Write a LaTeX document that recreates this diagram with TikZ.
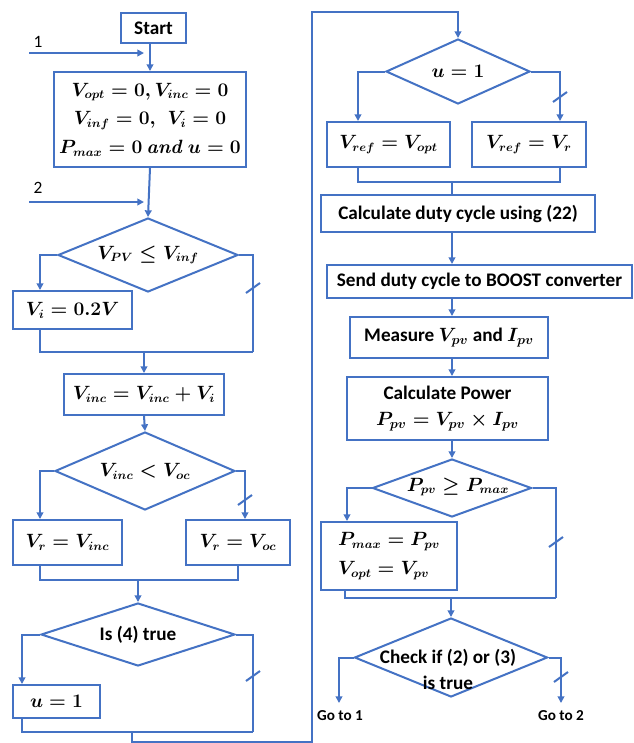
\documentclass[tikz,border=0pt]{standalone}
\usepackage[no-math]{fontspec}
\setmainfont{Carlito}
\usetikzlibrary{arrows.meta,shapes.geometric}
\definecolor{flow}{RGB}{68,114,196}
\tikzset{
  lnk/.style={draw=flow, line width=1.5pt},
  arr/.style={lnk, -{Triangle[length=5pt,width=5pt]}},
  sz/.style 2 args={minimum width=#1*0.75pt, minimum height=#2*0.75pt},
  box/.style={draw=flow, line width=1.5pt, rectangle, inner sep=2pt, align=center,
    font=\fontsize{14.4}{19.5}\selectfont\bfseries\boldmath},
  mth/.style={font=\fontsize{13.5}{21.4}\selectfont\bfseries\boldmath},
  dia/.style={draw=flow, line width=1.5pt, diamond, inner sep=0pt},
  ttxt/.style={inner sep=0pt, align=center, font=\fontsize{14.4}{19.5}\selectfont\bfseries\boldmath},
  tmth/.style={inner sep=0pt, font=\fontsize{13.5}{19.5}\selectfont\bfseries\boldmath},
  small/.style={inner sep=0pt, font=\fontsize{11.4}{13}\selectfont\bfseries},
  lbl/.style={inner sep=0pt, font=\fontsize{13}{15}\selectfont},
}
\newcommand\flowtick[1]{\draw[lnk, shift={#1}] (-7,5) -- (7,-5);}
\begin{document}
\begin{tikzpicture}[x=0.75pt,y=-0.75pt]
\useasboundingbox (0,0) rectangle (634,743);
\fill[white] (0,0) rectangle (634,743);

% ---------- left column ----------
\node[box, sz={65}{30}] (start) at (153.5,28) {Start};
\node[box, mth, sz={192}{95}] (init) at (150,119.5)
  {$V_{opt}=0, V_{inc}=0$\\ $V_{inf}=0,\ \ V_i=0$\\ $P_{max}=0\ \mathit{and}\ u=0$};
\draw[arr] (start.south -| init.north) -- (init.north);

\coordinate (in1) at (29,53); \coordinate (j1) at (144,53);
\draw[arr] (in1) -- (j1);
\node[lbl] (l1) at (38,42) {1};

\coordinate (in2) at (29,202); \coordinate (j2) at (144,202);
\draw[arr] (in2) -- (j2);
\node[lbl] (l2) at (38,188) {2};

\node[dia, sz={180}{74}] (d1) at (148,255) {};
\node[tmth] (d1t) at (d1) {$V_{PV}\le V_{inf}$};
\draw[arr] (init.south) -- (d1.north);

\node[box, mth, sz={119}{38}] (vi) at (72.5,310) {$V_i=0.2V$};
\draw[arr] (d1.west) -| (40,0 |- vi.north);
\coordinate (m1) at (253,352);
\draw[lnk] (d1.east) -| (m1);
\flowtick{(253,288)}
\draw[lnk] (40,0 |- vi.south) |- (m1);

\node[box, mth, sz={160}{41}] (vinc) at (144,394.5) {$V_{inc}=V_{inc}+V_i$};
\draw[arr] (vinc.north |- m1) -- (vinc.north);

\node[dia, sz={180}{78}] (d2) at (145,471) {};
\node[tmth] (d2t) at (d2) {$V_{inc}<V_{oc}$};
\draw[arr] (vinc.south) -- (d2.north);

\node[box, mth, sz={109}{45}] (vr1) at (67.5,542.5) {$V_r=V_{inc}$};
\node[box, mth, sz={104}{45}] (vr2) at (238,542.5) {$V_r=V_{oc}$};
\draw[arr] (d2.west) -| (40,0 |- vr1.north);
\draw[arr] (d2.east) -| (245,0 |- vr2.north);
\flowtick{(245,500)}
\coordinate (m2) at (238,580);
\draw[lnk] (40,0 |- vr1.south) |- (m2) -- (vr2.south);

\node[dia, sz={194}{63}] (d3) at (138,634.5) {};
\node[ttxt] (d3t) at (d3) {Is (4) true};
\draw[arr] (d3.north |- m2) -- (d3.north);

\node[box, mth, sz={87}{33}] (u1) at (56.5,701.5) {$u=1$};
\draw[arr] (d3.west) -| (22,0 |- u1.north);
\coordinate (m3) at (253,732);
\draw[lnk] (d3.east) -| (m3);
\flowtick{(253,676)}
\draw[lnk] (22,0 |- u1.south) |- (m3);

% ---------- right column ----------
\node[dia, sz={144}{65}] (d4) at (458,71.5) {};
\node[tmth] (d4t) at (d4) {$u=1$};

% loop from the bottom of the left column to the top of the right one
\coordinate (r0) at (132,732);
\draw[arr] (r0) -- (132,742) -| (312,12) -| (d4.north);

\node[box, mth, sz={123}{45}] (b1) at (388.5,144.5) {$V_{ref}=V_{opt}$};
\node[box, mth, sz={114}{45}] (b2) at (529,144.5) {$V_{ref}=V_r$};
\draw[arr] (d4.west) -| (358,0 |- b1.north);
\draw[arr] (d4.east) -| (560,0 |- b2.north);
\flowtick{(560,97)}
\coordinate (m4) at (560,182);
\draw[lnk] (358,0 |- b1.south) |- (m4) -- (560,0 |- b2.south);

\node[box, sz={274}{37}] (calc) at (458,213.5) {Calculate duty cycle using (22)};
\draw[lnk] (452,0 |- m4) -- (452,0 |- calc.north);

\node[box, sz={305}{33}] (send) at (479.5,281.5) {Send duty cycle to BOOST converter};
\draw[arr] (452,0 |- calc.south) -- (452,0 |- send.north);

\node[box, sz={198}{41}] (meas) at (449,337.5) {Measure $V_{pv}$ and $I_{pv}$};
\draw[arr] (452,0 |- send.south) -- (452,0 |- meas.north);

\node[box, sz={201}{63}] (pow) at (447.5,408.5) {Calculate Power\\ $P_{pv}=V_{pv}\times I_{pv}$};
\draw[arr] (452,0 |- meas.south) -- (452,0 |- pow.north);

\node[dia, sz={159}{58}] (d5) at (452,488) {};
\node[tmth] (d5t) at (458,487) {$P_{pv}\ge P_{max}$};
\draw[arr] (452,0 |- pow.south) -- (d5.north);

\node[box, mth, sz={136}{68}, align=left] (pm) at (389,556) {$P_{max}=P_{pv}$\\ $V_{opt}=V_{pv}$};
\draw[arr] (d5.west) -| (347,0 |- pm.north);
\coordinate (m5) at (556,598);
\draw[lnk] (d5.east) -| (m5);
\flowtick{(556,542)}
\draw[lnk] (345,0 |- pm.south) |- (m5);

\node[dia, sz={193}{79}] (d6) at (451,657.5) {};
\node[ttxt] (d6t) at (448,669) {Check if (2) or (3)\\ is true};
\draw[arr] (451,0 |- m5) -- (d6.north);

\coordinate (g1) at (339,703); \coordinate (g2) at (561,703);
\draw[arr] (d6.west) -| (g1);
\draw[arr] (d6.east) -| (g2);
\flowtick{(561,677)}
\node[small] (go1) at (340,716) {Go to 1};
\node[small] (go2) at (561,716) {Go to 2};
\end{tikzpicture}
\end{document}
